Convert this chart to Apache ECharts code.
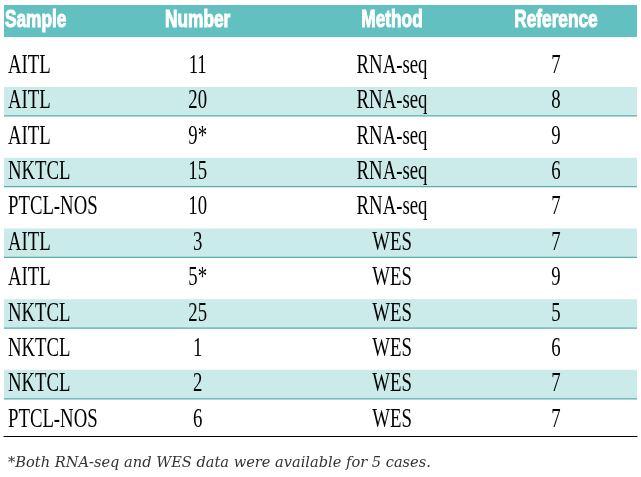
<!DOCTYPE html>
<html>
<head>
<meta charset="utf-8">
<script src="https://cdn.jsdelivr.net/npm/echarts@6/dist/echarts.min.js"></script>
<style>
html,body{margin:0;padding:0;background:#fff;}
#chart{width:641px;height:477px;}
</style>
</head>
<body>
<div id="chart"></div>
<script>
// ---- data ----
const headers = ['Sample', 'Number', 'Method', 'Reference'];
const samples = ['AITL', 'AITL', 'AITL', 'NKTCL', 'PTCL-NOS', 'AITL', 'AITL', 'NKTCL', 'NKTCL', 'NKTCL', 'PTCL-NOS'];
const numbers = ['11', '20', '9*', '15', '10', '3', '5*', '25', '1', '2', '6'];
const methods = ['RNA-seq', 'RNA-seq', 'RNA-seq', 'RNA-seq', 'RNA-seq', 'WES', 'WES', 'WES', 'WES', 'WES', 'WES'];
const references = ['7', '8', '9', '6', '7', '7', '9', '5', '6', '7', '7'];
const footnote = '*Both RNA-seq and WES data were available for 5 cases.';

// ---- layout / style ----
const colX = [0.63, 30.6, 61.3, 87.2];          // column anchor on x axis (0-100)
const headX = [0.16, 30.6, 61.3, 87.2];
const colAlign = ['left', 'center', 'center', 'center'];
const headColor = '#63c0c0';
const stripeColor = '#cbeaea';
const stripeLine = '#58adad';
const bodyFont = '28px "Liberation Serif"';
const bodyScaleX = 0.67;
const headFont = 'bold 23px "Liberation Sans"';
const headScaleX = 0.75;

const columns = [samples, numbers, methods, references];
const rowIdx = samples.map((_, i) => i);

const chart = echarts.init(document.getElementById('chart'), null, {renderer: 'canvas'});

function bodyRender(params, api) {
  const i = api.value(0);
  const c = api.coord([0, i]);
  const xl = api.coord([0, i])[0];
  const xr = api.coord([100, i])[0];
  const h = api.size([0, 1])[1];
  const top = c[1] - h / 2;
  const children = [];
  if (i % 2 === 1) {
    const by = top + h * 0.13;
    const bh = h * 0.82;
    children.push({type: 'rect', shape: {x: xl, y: by, width: xr - xl, height: bh}, style: {fill: stripeColor}});
    children.push({type: 'line', shape: {x1: xl, y1: by + bh, x2: xr, y2: by + bh}, style: {stroke: stripeLine, lineWidth: 1.2}});
  }
  for (let k = 0; k < columns.length; k++) {
    const p = api.coord([colX[k], i]);
    children.push({
      type: 'text', x: p[0], y: p[1] + 1, scaleX: bodyScaleX,
      style: {text: String(columns[k][i]), font: bodyFont, fill: '#000', align: colAlign[k], verticalAlign: 'middle'}
    });
  }
  return {type: 'group', children};
}

function headRender(params, api) {
  const c = api.coord([0, 0]);
  const xl = c[0];
  const xr = api.coord([100, 0])[0];
  const h = api.size([0, 1])[1];
  const children = [{type: 'rect', shape: {x: xl, y: c[1] - h / 2, width: xr - xl, height: h}, style: {fill: headColor}}];
  for (let k = 0; k < headers.length; k++) {
    const p = api.coord([headX[k], 0]);
    children.push({
      type: 'text', x: p[0], y: p[1], scaleX: headScaleX,
      style: {text: headers[k], font: headFont, fill: '#fff', stroke: '#fff', lineWidth: 1, align: colAlign[k], verticalAlign: 'middle'}
    });
  }
  return {type: 'group', children};
}

const option = {
  animation: false,
  backgroundColor: '#fff',
  title: {
    text: footnote, left: 3, top: 451,
    textStyle: {fontFamily: 'DejaVu Serif', fontStyle: 'italic', fontWeight: 'normal', fontSize: 14.6, color: '#333'}
  },
  grid: [
    {left: 4, right: 4, top: 47, height: 389},
    {left: 4, right: 4, top: 5, height: 32}
  ],
  xAxis: [
    {type: 'value', gridIndex: 0, min: 0, max: 100, axisLine: {show: true, onZero: false, lineStyle: {color: '#000', width: 1.2}},
     axisTick: {show: false}, axisLabel: {show: false}, splitLine: {show: false}},
    {type: 'value', gridIndex: 1, min: 0, max: 100, show: false}
  ],
  yAxis: [
    {type: 'category', gridIndex: 0, inverse: true, data: rowIdx, show: false},
    {type: 'category', gridIndex: 1, data: ['h'], show: false}
  ],
  series: [
    {type: 'custom', xAxisIndex: 0, yAxisIndex: 0, renderItem: bodyRender, data: rowIdx.map(i => [i]), encode: {y: 0}, clip: false, silent: true},
    {type: 'custom', xAxisIndex: 1, yAxisIndex: 1, renderItem: headRender, data: [[0]], encode: {y: 0}, clip: false, silent: true}
  ]
};
chart.setOption(option);
</script>
</body>
</html>
